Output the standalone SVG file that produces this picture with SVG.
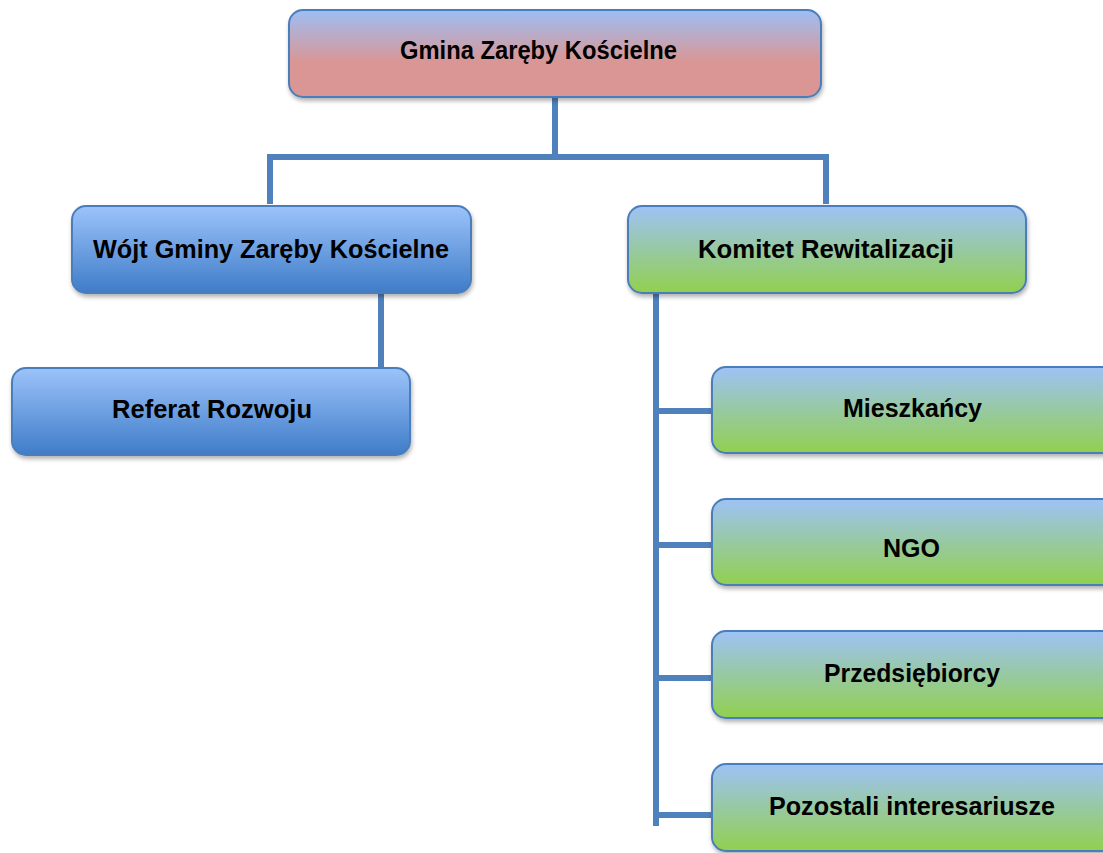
<svg xmlns="http://www.w3.org/2000/svg" width="1103" height="853" viewBox="0 0 1103 853">
<defs>
<linearGradient id="gRed" x1="0" y1="0" x2="0" y2="1">
<stop offset="0" stop-color="#9ebef5"/>
<stop offset="0.6" stop-color="#d99694"/>
<stop offset="1" stop-color="#d99694"/>
</linearGradient>
<linearGradient id="gBlue" x1="0" y1="0" x2="0" y2="1">
<stop offset="0" stop-color="#9cc3fa"/>
<stop offset="1" stop-color="#3f7cc9"/>
</linearGradient>
<linearGradient id="gGreen" x1="0" y1="0" x2="0" y2="1">
<stop offset="0" stop-color="#9ec2f6"/>
<stop offset="1" stop-color="#91d04e"/>
</linearGradient>
<filter id="sh" x="-5%" y="-10%" width="115%" height="130%">
<feDropShadow dx="1" dy="3" stdDeviation="2" flood-color="#000" flood-opacity="0.3"/>
</filter>
</defs>
<style>
.box{stroke:#4a7ebb;stroke-width:2;filter:url(#sh)}
.red{fill:url(#gRed)}
.blue{fill:url(#gBlue)}
.green{fill:url(#gGreen)}
.lbl{font-family:"Liberation Sans",Arial,sans-serif;font-weight:bold;font-size:25px;fill:#000}
.con{stroke:#4f81bd;stroke-width:6;fill:none}
</style>
<rect width="1103" height="853" fill="#fff"/>
<g id="connectors">
<line class="con" x1="555" y1="97" x2="555" y2="158"/>
<line class="con" x1="267" y1="157" x2="829" y2="157"/>
<line class="con" x1="270" y1="157" x2="270" y2="204"/>
<line class="con" x1="826" y1="157" x2="826" y2="204"/>
<line class="con" x1="381" y1="293" x2="381" y2="368"/>
<line class="con" x1="656" y1="293" x2="656" y2="826"/>
<line class="con" x1="656" y1="411" x2="713" y2="411"/>
<line class="con" x1="656" y1="545" x2="713" y2="545"/>
<line class="con" x1="656" y1="678" x2="713" y2="678"/>
<line class="con" x1="656" y1="815" x2="713" y2="815"/>
</g>
<g id="gmina">
<rect class="box red" x="289" y="10" width="532" height="87" rx="14"/>
<text class="lbl" x="400" y="59" textLength="277" lengthAdjust="spacingAndGlyphs">Gmina Zaręby Kościelne</text>
</g>
<g id="wojt">
<rect class="box blue" x="72" y="206" width="399" height="87" rx="14"/>
<text class="lbl" x="93" y="258" textLength="356" lengthAdjust="spacingAndGlyphs">Wójt Gminy Zaręby Kościelne</text>
</g>
<g id="referat">
<rect class="box blue" x="12" y="368" width="398" height="87" rx="14"/>
<text class="lbl" x="112" y="418" textLength="200" lengthAdjust="spacingAndGlyphs">Referat Rozwoju</text>
</g>
<g id="komitet">
<rect class="box green" x="628" y="206" width="398" height="87" rx="14"/>
<text class="lbl" x="698" y="258" textLength="256" lengthAdjust="spacingAndGlyphs">Komitet Rewitalizacji</text>
</g>
<g id="mieszkancy">
<rect class="box green" x="712" y="367" width="410" height="86" rx="14"/>
<text class="lbl" x="843" y="417" textLength="139" lengthAdjust="spacingAndGlyphs">Mieszkańcy</text>
</g>
<g id="ngo">
<rect class="box green" x="712" y="499" width="410" height="86" rx="14"/>
<text class="lbl" x="883" y="557" textLength="57" lengthAdjust="spacingAndGlyphs">NGO</text>
</g>
<g id="przedsiebiorcy">
<rect class="box green" x="712" y="631" width="410" height="87" rx="14"/>
<text class="lbl" x="824" y="682" textLength="176" lengthAdjust="spacingAndGlyphs">Przedsiębiorcy</text>
</g>
<g id="pozostali">
<rect class="box green" x="712" y="764" width="410" height="87" rx="14"/>
<text class="lbl" x="769" y="815" textLength="286" lengthAdjust="spacingAndGlyphs">Pozostali interesariusze</text>
</g>
</svg>
